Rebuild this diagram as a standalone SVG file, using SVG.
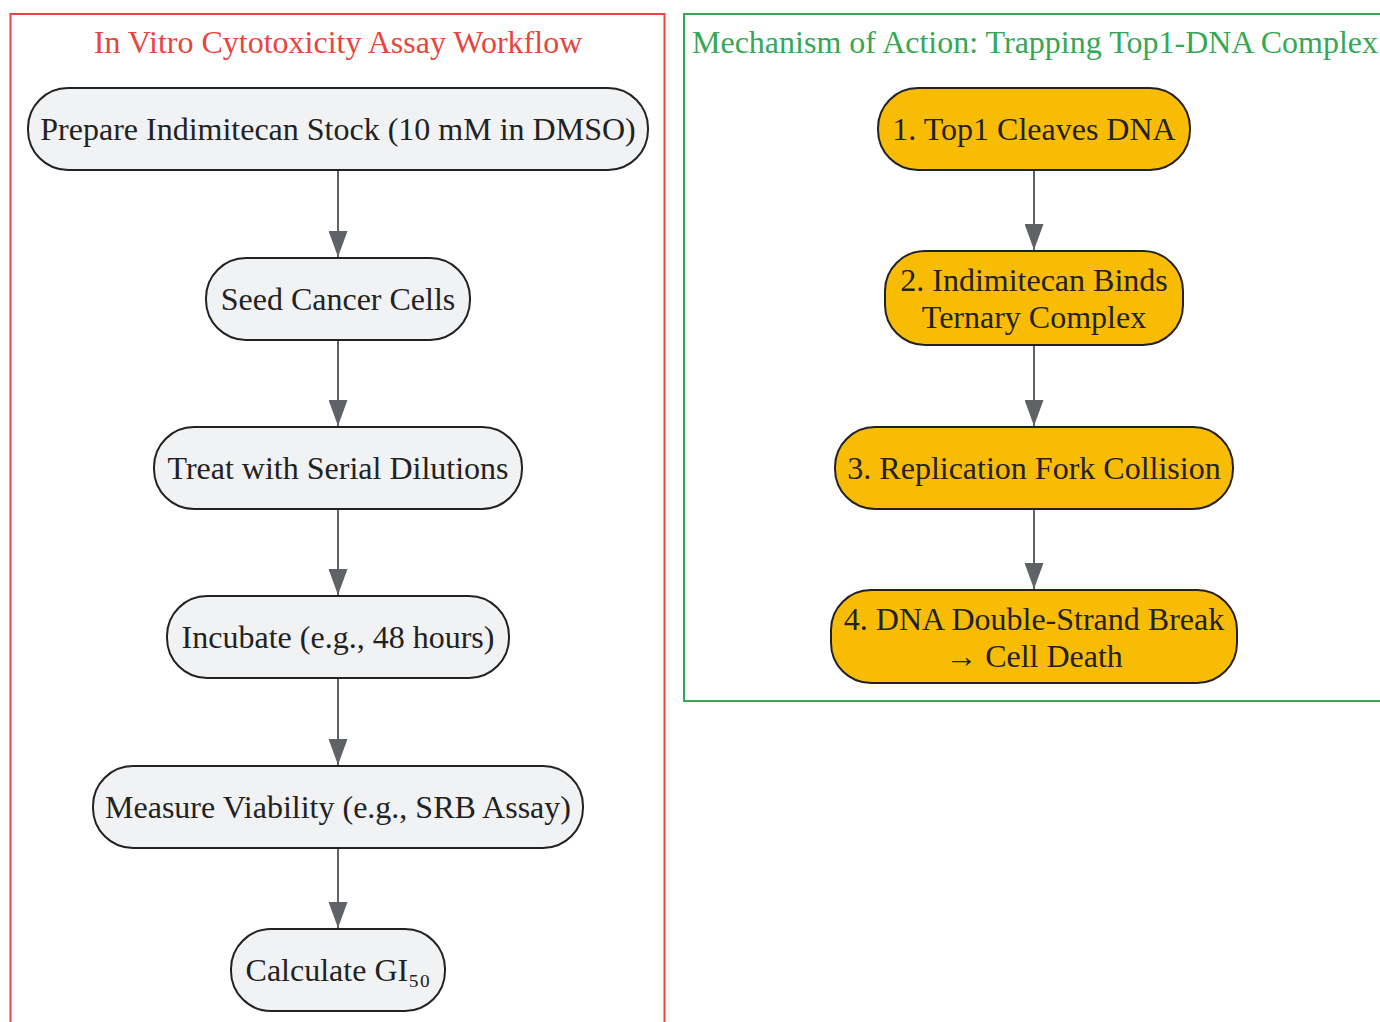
<svg xmlns="http://www.w3.org/2000/svg" width="1380" height="1022" viewBox="0 0 1380 1022">
<defs>
<style>
.t{font-family:"Liberation Serif","Times New Roman",serif;font-size:32px;fill:#222;text-anchor:middle;}
.ct{font-family:"Liberation Serif","Times New Roman",serif;font-size:32px;text-anchor:middle;}
.g rect{fill:#f1f2f4;stroke:#222;stroke-width:2;}
.y rect{fill:#f9bc05;stroke:#222;stroke-width:2;}
.e{stroke:#5f6368;stroke-width:2;fill:none;marker-end:url(#ah);}
</style>
<marker id="ah" viewBox="0 0 10 10" refX="10" refY="5" markerWidth="26" markerHeight="19" markerUnits="userSpaceOnUse" orient="auto" preserveAspectRatio="none">
<path d="M0,0 L10,5 L0,10 z" fill="#5f6368"/>
</marker>
</defs>
<rect width="1380" height="1022" fill="#fff"/>
<g id="cluster-assay">
<rect x="10.5" y="14" width="654" height="1020" fill="none" stroke="#e8453c" stroke-width="2"/>
<text class="ct" x="338" y="53" fill="#e8453c">In Vitro Cytotoxicity Assay Workflow</text>
</g>
<g id="cluster-moa">
<rect x="684" y="14" width="710" height="687" fill="none" stroke="#34a853" stroke-width="2"/>
<text class="ct" x="1035" y="53" fill="#34a853">Mechanism of Action: Trapping Top1-DNA Complex</text>
</g>
<g id="connectors">
<path class="e" d="M338,170 V257"/>
<path class="e" d="M338,340 V426"/>
<path class="e" d="M338,509 V595"/>
<path class="e" d="M338,678 V765"/>
<path class="e" d="M338,848 V928"/>
<path class="e" d="M1034,170 V250"/>
<path class="e" d="M1034,345 V426"/>
<path class="e" d="M1034,509 V589"/>
</g>
<g id="n1" class="g"><rect x="28" y="88" width="620" height="82" rx="40"/><text class="t" x="338" y="140">Prepare Indimitecan Stock (10 mM in DMSO)</text></g>
<g id="n2" class="g"><rect x="206" y="258" width="264" height="82" rx="40"/><text class="t" x="338" y="310">Seed Cancer Cells</text></g>
<g id="n3" class="g"><rect x="154" y="427" width="368" height="82" rx="40"/><text class="t" x="338" y="479">Treat with Serial Dilutions</text></g>
<g id="n4" class="g"><rect x="167" y="596" width="342" height="82" rx="40"/><text class="t" x="338" y="648">Incubate (e.g., 48 hours)</text></g>
<g id="n5" class="g"><rect x="93" y="766" width="490" height="82" rx="40"/><text class="t" x="338" y="818">Measure Viability (e.g., SRB Assay)</text></g>
<g id="n6" class="g"><rect x="231" y="929" width="214" height="82" rx="40"/><text class="t" x="338" y="981">Calculate GI₅₀</text></g>
<g id="m1" class="y"><rect x="878" y="88" width="312" height="82" rx="40"/><text class="t" x="1034" y="140">1. Top1 Cleaves DNA</text></g>
<g id="m2" class="y"><rect x="885" y="251" width="298" height="94" rx="40"/><text class="t" x="1034" y="291">2. Indimitecan Binds</text><text class="t" x="1034" y="328">Ternary Complex</text></g>
<g id="m3" class="y"><rect x="835" y="427" width="398" height="82" rx="40"/><text class="t" x="1034" y="479">3. Replication Fork Collision</text></g>
<g id="m4" class="y"><rect x="831" y="590" width="406" height="93" rx="40"/><text class="t" x="1034" y="630">4. DNA Double-Strand Break</text><text class="t" x="1034" y="667">→ Cell Death</text></g>
</svg>
